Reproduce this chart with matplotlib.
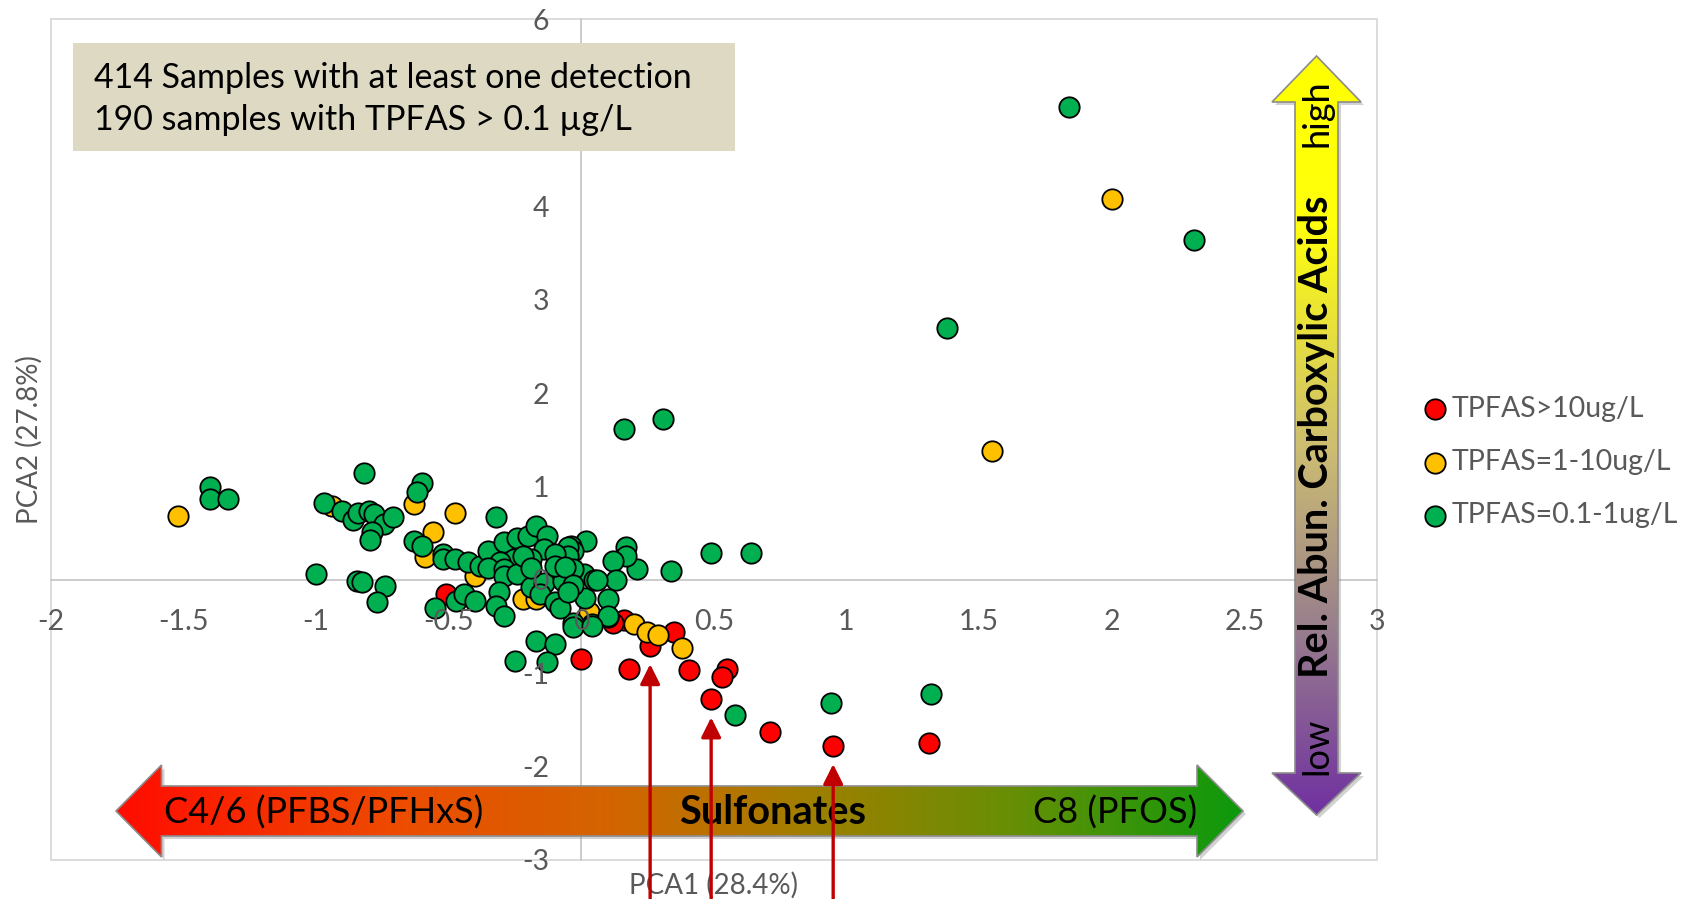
import matplotlib.pyplot as plt
import numpy as np
from matplotlib.patches import Polygon, Rectangle
from matplotlib.colors import LinearSegmentedColormap
from matplotlib.ticker import MultipleLocator, FuncFormatter

plt.rcParams['font.family'] = ['Lato', 'DejaVu Sans']
plt.rcParams['axes.unicode_minus'] = False

# PCA scores per TPFAS concentration class
red_x = [0.26, 0.35, 0.16, 0.12, 0.18, 0.405, 0.55, 0.53, 0.49, 0.71, 0.95, 1.31, 0.00, -0.51]
red_y = [-0.71, -0.56, -0.43, -0.46, -0.96, -0.97, -0.96, -1.045, -1.28, -1.63, -1.78, -1.75, -0.85, -0.15]

orange_x = [2.00, 1.55, -1.52, -0.94, -0.63, -0.475, -0.56, -0.59, -0.40, -0.22, -0.17, 0.03, 0.20, 0.25, 0.29, 0.38]
orange_y = [4.08, 1.38, 0.685, 0.79, 0.81, 0.72, 0.51, 0.24, 0.04, -0.21, -0.21, -0.35, -0.47, -0.56, -0.59, -0.73]

green_x = [1.84, 2.31, 1.38, 0.16, 0.31,
           0.49, 0.64, 0.34, 0.21, 0.17, 0.17, 0.12, 0.13, 0.02, 0.10, 0.015, 0.01, 0.05, 0.04, -0.03, -0.04, -0.03, 0.10,
           0.58, 0.94, 1.32,
           -1.40, -1.40, -1.33,
           -0.82, -0.97, -0.90, -0.86, -0.84, -0.80, -0.78, -0.745, -0.71, -0.79, -0.795,
           -0.60, -0.62, -0.63, -0.60, -0.52, -0.52,
           -1.00, -0.845, -0.825, -0.74, -0.77,
           -0.55, -0.47, -0.44, -0.40,
           -0.32, -0.475, -0.425, -0.38, -0.35, -0.29, -0.24, -0.20, -0.17, -0.13, -0.14, -0.05, -0.05, -0.10,
           -0.19, -0.255, -0.305, -0.35, -0.29, -0.29, -0.24, -0.19, -0.14, -0.07, -0.03, 0.06,
           -0.22, -0.19, -0.10, -0.06, -0.03,
           -0.31, -0.32, -0.29, -0.155, -0.10, -0.08, -0.05, 0.10, -0.03, 0.04,
           -0.17, -0.10, -0.25, -0.13]
green_y = [5.06, 3.64, 2.70, 1.61, 1.72,
           0.29, 0.29, 0.09, 0.12, 0.35, 0.26, 0.20, 0.00, 0.42, -0.21, -0.19, 0.06, 0.00, -0.47, -0.46, 0.36, 0.31, -0.40,
           -1.45, -1.32, -1.22,
           0.99, 0.86, 0.86,
           1.14, 0.82, 0.74, 0.64, 0.72, 0.74, 0.70, 0.60, 0.675, 0.51, 0.43,
           1.04, 0.94, 0.42, 0.36, 0.275, 0.22,
           0.06, -0.01, -0.02, -0.065, -0.24,
           -0.30, -0.225, -0.15, -0.225,
           0.67, 0.22, 0.19, 0.15, 0.31, 0.40, 0.45, 0.47, 0.58, 0.47, 0.33, 0.35, 0.26, 0.275,
           0.22, 0.22, 0.19, 0.13, 0.115, 0.04, 0.06, -0.08, -0.03, -0.01, 0.115, 0.00,
           0.26, 0.13, 0.15, 0.14, -0.06,
           -0.135, -0.28, -0.385, -0.15, -0.24, -0.30, -0.135, -0.385, -0.51, -0.49,
           -0.65, -0.69, -0.87, -0.885]

series = [
    (red_x, red_y, '#FF0000', 'TPFAS>10ug/L'),
    (orange_x, orange_y, '#FFC000', 'TPFAS=1-10ug/L'),
    (green_x, green_y, '#00B050', 'TPFAS=0.1-1ug/L'),
]

# red samples highlighted with arrows from below
arrow_targets = [0, 8, 10]

info_lines = ['414 Samples with at least one detection',
              '190 samples with TPFAS > 0.1 \u00b5g/L']

W, H = 1688, 899
GREY = '#595959'
LINE = '#C8C8C8'

fig = plt.figure(figsize=(W / 100, H / 100), dpi=100)
ax = fig.add_axes([50.6 / W, (H - 860) / H, 1326.4 / W, 840.6 / H])

for xs, ys, col, lab in series:
    ax.scatter(xs, ys, s=215, c=col, edgecolors='black', linewidths=1.3, label=lab, zorder=1)

ax.set_xlim(-2, 3)
ax.set_ylim(-3, 6)
ax.xaxis.set_major_locator(MultipleLocator(0.5))
ax.yaxis.set_major_locator(MultipleLocator(1))
ax.xaxis.set_major_formatter(FuncFormatter(lambda v, p: f'{v:g}'))
# the 5 label sits under the info box
ax.yaxis.set_major_formatter(FuncFormatter(lambda v, p: '' if v == 5 else f'{v:g}'))

# axes cross at the origin, outer frame drawn separately
for side in ['top', 'right']:
    ax.spines[side].set_visible(False)
for side in ['left', 'bottom']:
    ax.spines[side].set_position(('data', 0))
    ax.spines[side].set_color(LINE)
    ax.spines[side].set_linewidth(1.3)
    ax.spines[side].set_zorder(0.5)
ax.add_patch(Rectangle((0, 0), 1, 1, transform=ax.transAxes, fill=False,
                       ec='#D9D9D9', lw=1.3, clip_on=False, zorder=0.5))

ax.tick_params(axis='both', length=0, labelsize=20.5, labelcolor=GREY)
ax.tick_params(axis='x', pad=21)
ax.tick_params(axis='y', pad=23)
ax.xaxis.set_zorder(3)
ax.yaxis.set_zorder(3)

ax.text(-0.0162, 0.5, 'PCA2 (27.8%)', transform=ax.transAxes, rotation=90,
        ha='center', va='center', fontsize=20, color=GREY)
ax.text(0.5, -0.0297, 'PCA1 (28.4%)', transform=ax.transAxes,
        ha='center', va='center', fontsize=20, color=GREY)

leg = ax.legend(loc='center left', bbox_to_anchor=(1426 / W, (H - 462) / H),
                bbox_transform=fig.transFigure, frameon=False, fontsize=20.5,
                handlelength=0.6, handletextpad=0.3, labelspacing=0.95,
                borderpad=0, borderaxespad=0, scatterpoints=1)
for t in leg.get_texts():
    t.set_color(GREY)

# overlay in pixel coordinates for the annotation graphics
ov = fig.add_axes([0, 0, 1, 1], zorder=3)
ov.axis('off')


def gradient_arrow(axo, pts, stops, horizontal):
    pts = np.array(pts, dtype=float)
    axo.add_patch(Polygon(pts + [3, 3], closed=True, fc='#7F7F7F', ec='none', alpha=0.35, zorder=1))
    cmap = LinearSegmentedColormap.from_list('grad', stops)
    g = np.linspace(0, 1, 256)
    img = g[None, :] if horizontal else g[:, None]
    xs, ys = pts.T
    im = axo.imshow(img, cmap=cmap, extent=(xs.min(), xs.max(), ys.max(), ys.min()),
                    aspect='auto', interpolation='bilinear', zorder=2)
    outline = Polygon(pts, closed=True, fc='none', ec='#8C8C8C', lw=1.2, zorder=3)
    axo.add_patch(outline)
    im.set_clip_path(outline)


cy, tip_l, back_l, back_r, tip_r = 811, 116, 161.5, 1197, 1243
bh, hh = 25, 46
sulf_pts = [(tip_l, cy), (back_l, cy - hh), (back_l, cy - bh), (back_r, cy - bh), (back_r, cy - hh),
            (tip_r, cy), (back_r, cy + hh), (back_r, cy + bh), (back_l, cy + bh), (back_l, cy + hh)]
sulf_stops = [(0.0, (1.0, 0.05, 0.0)), (0.25, (0.93, 0.30, 0.0)), (0.45, (0.82, 0.40, 0.0)),
              (0.62, (0.62, 0.50, 0.0)), (0.80, (0.40, 0.56, 0.02)), (1.0, (0.05, 0.60, 0.05))]
gradient_arrow(ov, sulf_pts, sulf_stops, True)

cx, tip_t, back_t, back_b, tip_b = 1316.5, 56, 102, 773, 815
bw, hw = 21.5, 44.5
carb_pts = [(cx, tip_t), (cx + hw, back_t), (cx + bw, back_t), (cx + bw, back_b), (cx + hw, back_b),
            (cx, tip_b), (cx - hw, back_b), (cx - bw, back_b), (cx - bw, back_t), (cx - hw, back_t)]
carb_stops = [(0.0, (1.0, 1.0, 0.0)), (0.22, (1.0, 1.0, 0.05)), (0.52, (0.80, 0.74, 0.45)),
              (0.75, (0.60, 0.50, 0.55)), (1.0, (0.44, 0.19, 0.63))]
gradient_arrow(ov, carb_pts, carb_stops, False)

ov.text(164, cy + 2, 'C4/6 (PFBS/PFHxS)', fontsize=26, ha='left', va='center', zorder=5)
ov.text(773, cy + 2, 'Sulfonates', fontsize=28.5, weight='bold', ha='center', va='center', zorder=5)
ov.text(1197, cy + 2, 'C8 (PFOS)', fontsize=26, ha='right', va='center', zorder=5)
ov.text(cx, 113, 'high', fontsize=26, rotation=90, ha='center', va='center', zorder=5)
ov.text(cx, 437, 'Rel. Abun. Carboxylic Acids', fontsize=28.5, weight='bold', rotation=90,
        ha='center', va='center', zorder=5)
ov.text(cx, 746, 'low', fontsize=26, rotation=90, ha='center', va='center', zorder=5)

# info box
ov.add_patch(Rectangle((73, 43), 662, 108, fc='#DDD9C3', ec='none', zorder=4))
for k, line in enumerate(info_lines):
    ov.text(94, 77.5 + 43 * k, line, fontsize=24.5, ha='left', va='center', zorder=5)

ov.set_xlim(0, W)
ov.set_ylim(H, 0)

# arrows pointing at selected high-concentration samples
top = fig.add_axes(ax.get_position(), zorder=4)
top.set_xlim(ax.get_xlim())
top.set_ylim(ax.get_ylim())
top.axis('off')
for i in arrow_targets:
    top.annotate('', xy=(red_x[i], red_y[i]), xycoords='data',
                 xytext=(red_x[i], 0), textcoords=('data', 'figure fraction'),
                 arrowprops=dict(arrowstyle='-|>,head_length=0.6,head_width=0.3',
                                 color='#C00000', lw=2.4, shrinkA=0, shrinkB=13,
                                 mutation_scale=20),
                 annotation_clip=False)

fig.savefig('out.png', dpi=100)
